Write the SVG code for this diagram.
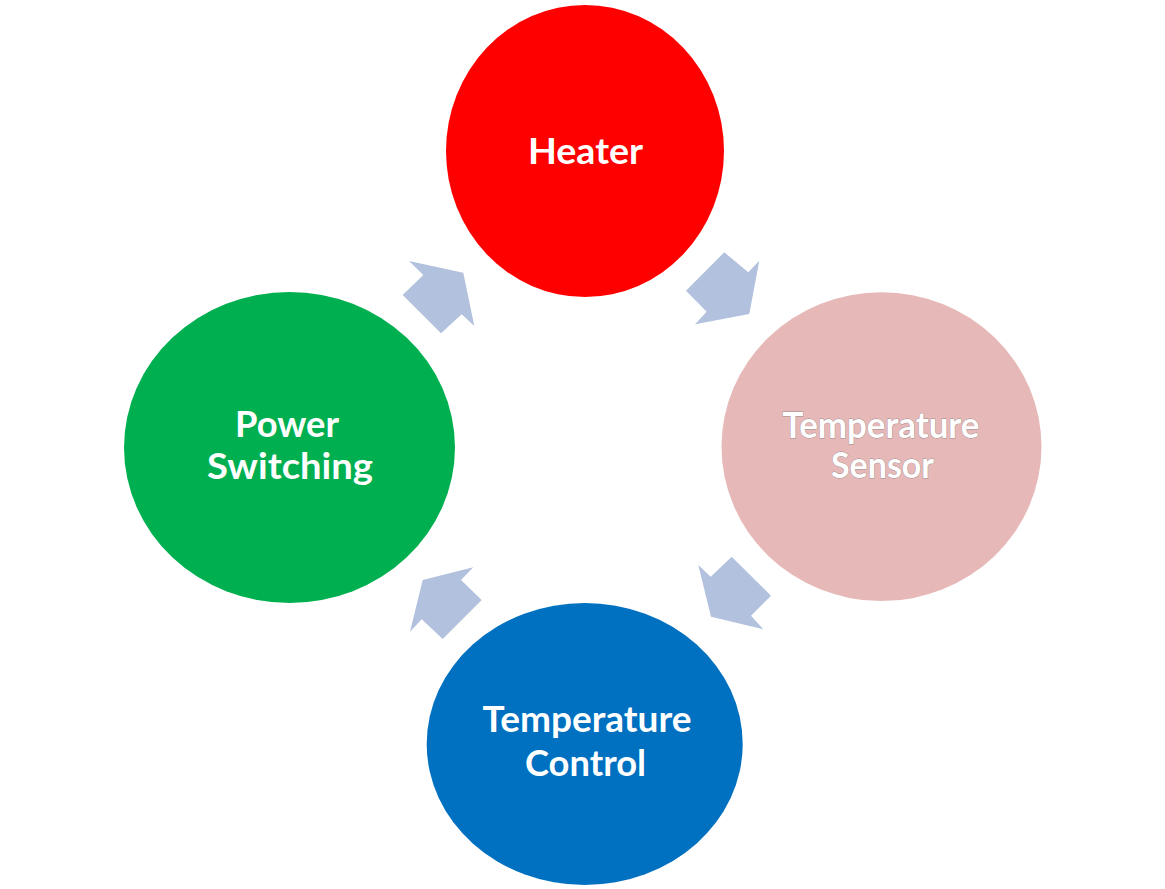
<svg xmlns="http://www.w3.org/2000/svg" width="1165" height="889" viewBox="0 0 1165 889">
<style>
.lbl{font-family:Lato,"Open Sans","Liberation Sans",sans-serif;font-weight:bold;font-size:36px;fill:#ffffff;text-anchor:middle}
.sens{stroke:#9c8c8c;stroke-width:0.8px;paint-order:stroke}
.arrow{fill:#B2C1DD}
</style>
<rect width="1165" height="889" fill="#ffffff"/>
<g id="connectors">
<polygon class="arrow" points="724.3,252.3 748.3,272.3 759.3,260.7 749.3,314 695,324.3 706.7,311.7 686,290.7"/>
<polygon class="arrow" points="698.3,565 710.7,576.7 731.7,556.7 771,595.7 751,615.7 763.3,629.3 711,616.7"/>
<polygon class="arrow" points="473.3,567.3 461,580 481.7,600 442.7,639 421.7,619.3 410,631.7 422.7,580"/>
<polygon class="arrow" points="409,261 463.3,272.7 474.3,326 461.7,314.3 441,333.3 402.7,295 423.3,275"/>
</g>
<g id="heater">
<ellipse cx="585" cy="151" rx="139" ry="146" fill="#FF0000"/>
<text class="lbl" x="585.5" y="164" textLength="115" lengthAdjust="spacingAndGlyphs">Heater</text>
</g>
<g id="temperature-sensor">
<ellipse cx="881.5" cy="446.7" rx="160" ry="154.4" fill="#E6B9B8"/>
<text class="lbl sens" x="881" y="437.5" textLength="197" lengthAdjust="spacingAndGlyphs">Temperature</text>
<text class="lbl sens" x="882.5" y="477.5" textLength="103" lengthAdjust="spacingAndGlyphs">Sensor</text>
</g>
<g id="temperature-control">
<ellipse cx="584.7" cy="744" rx="158" ry="141" fill="#0070C0"/>
<text class="lbl" x="587" y="732" textLength="209" lengthAdjust="spacingAndGlyphs">Temperature</text>
<text class="lbl" x="585.5" y="776" textLength="121" lengthAdjust="spacingAndGlyphs">Control</text>
</g>
<g id="power-switching">
<ellipse cx="289.5" cy="447.5" rx="165.5" ry="155.5" fill="#00B050"/>
<text class="lbl" x="287" y="437" textLength="104" lengthAdjust="spacingAndGlyphs">Power</text>
<text class="lbl" x="290" y="479" textLength="166" lengthAdjust="spacingAndGlyphs">Switching</text>
</g>
</svg>
